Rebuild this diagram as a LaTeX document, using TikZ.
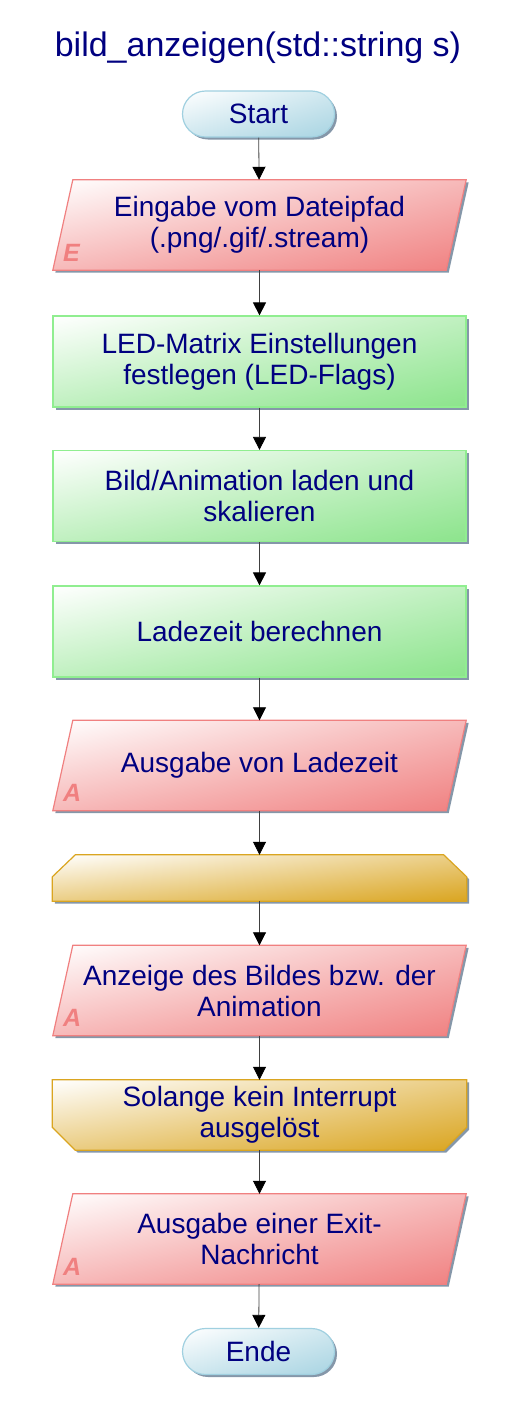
\documentclass[tikz,border=0pt]{standalone}
\usepackage{fontspec}
\setmainfont{Liberation Sans}
\usetikzlibrary{shapes.misc,shadows,shadings,arrows.meta,backgrounds}

\definecolor{txtblau}{RGB}{0,0,128}
\definecolor{rotrand}{RGB}{240,128,128}
\definecolor{gruenrand}{RGB}{144,238,144}
\definecolor{gruenfuell}{RGB}{140,228,140}
\definecolor{goldrand}{RGB}{218,165,32}
\definecolor{blaurand}{RGB}{160,208,224}
\definecolor{blaufuell}{RGB}{168,212,226}
\definecolor{schattenfarbe}{RGB}{120,140,160}

\tikzset{
  knoten/.style={text=txtblau, align=center, inner sep=0pt, font=\fontsize{28}{31}\selectfont},
  schattig/.style={drop shadow={shadow xshift=2.5pt, shadow yshift=-2.5pt, fill=schattenfarbe, opacity=0.9}},
  verlauf/.style={upper left=white, lower right=#1, upper right=#1!55!white, lower left=#1!55!white},
  kasten/.style={knoten, draw, line width=1.2pt, schattig},
  terminal/.style={kasten, rounded rectangle, draw=blaurand, verlauf=blaufuell,
    minimum width=152pt, minimum height=46pt},
  aktion/.style={kasten, rectangle, draw=gruenrand, verlauf=gruenfuell,
    minimum width=413pt, minimum height=91pt},
  iobox/.style={knoten, minimum width=393pt, minimum height=90pt},
  ioform/.style={draw=rotrand, line width=1.2pt, verlauf=rotrand, schattig},
  schleife/.style={knoten, minimum width=414pt, minimum height=#1},
  goldform/.style={draw=goldrand, line width=1.2pt, verlauf=goldrand, schattig},
  ecklbl/.style={anchor=south west, inner sep=0pt, text=rotrand,
    font=\fontsize{25}{25}\selectfont\bfseries\itshape},
  pfeil/.style={draw=black!75, line width=0.8pt, -{Triangle[width=13pt,length=13pt,color=black]}}
}

\begin{document}
\begin{tikzpicture}[x=1pt,y=-1pt]
  \useasboundingbox (0,0) rectangle (517,1419);
  \node[text=txtblau, font=\fontsize{34}{36}\selectfont] (titel) at (258,48) {bild\_anzeigen(std::string s)};
  \node[terminal] (start) at (258.5,114) {Start};
  \node[iobox] (pfad) at (259.5,225) {Eingabe vom Dateipfad\\(.png/.gif/.stream)};
  \node[aktion] (flags) at (259.5,361.5) {LED-Matrix Einstellungen\\festlegen (LED-Flags)};
  \node[aktion] (laden) at (259.5,496) {Bild/Animation laden und\\skalieren};
  \node[aktion] (zeit) at (259.5,631.5) {Ladezeit berechnen};
  \node[iobox] (zeitaus) at (259.5,765.5) {Ausgabe von Ladezeit};
  \node[schleife=46pt] (loopa) at (259.5,878) {};
  \node[iobox] (anzeige) at (259.5,990.5) {Anzeige des Bildes bzw. der\\Animation};
  \node[schleife=70pt] (loope) at (259.5,1115) {Solange kein Interrupt\\ausgelöst};
  \node[iobox] (exit) at (259.5,1239) {Ausgabe einer Exit-\\Nachricht};
  \node[terminal] (ende) at (258.5,1351.5) {Ende};

  % Parallelogramme und Schleifenrahmen hinter den Texten
  \begin{scope}[on background layer]
    \foreach \n in {pfad,zeitaus,anzeige,exit}
      \path[ioform] ([xshift=10pt]\n.north west) -- ([xshift=10pt]\n.north east)
        -- ([xshift=-10pt]\n.south east) -- ([xshift=-10pt]\n.south west) -- cycle;
    \path[goldform] (loopa.south west) -- ([yshift=-22pt]loopa.north west)
      -- ([xshift=23pt]loopa.north west) -- ([xshift=-23pt]loopa.north east)
      -- ([yshift=-22pt]loopa.north east) -- (loopa.south east) -- cycle;
    \path[goldform] (loope.north west) -- (loope.north east)
      -- ([yshift=23pt]loope.south east) -- ([xshift=-23pt]loope.south east)
      -- ([xshift=23pt]loope.south west) -- ([yshift=23pt]loope.south west) -- cycle;
  \end{scope}
  \foreach \n/\b in {pfad/E,zeitaus/A,anzeige/A,exit/A}
    \node[ecklbl] (\n-\b) at ([yshift=9pt]\n.south west) {\b};

  \draw[pfeil] (start) -- (pfad);
  \draw[pfeil] (pfad) -- (flags);
  \draw[pfeil] (flags) -- (laden);
  \draw[pfeil] (laden) -- (zeit);
  \draw[pfeil] (zeit) -- (zeitaus);
  \draw[pfeil] (zeitaus) -- (loopa);
  \draw[pfeil] (loopa) -- (anzeige);
  \draw[pfeil] (anzeige) -- (loope);
  \draw[pfeil] (loope) -- (exit);
  \draw[pfeil] (exit) -- (ende);
\end{tikzpicture}
\end{document}
